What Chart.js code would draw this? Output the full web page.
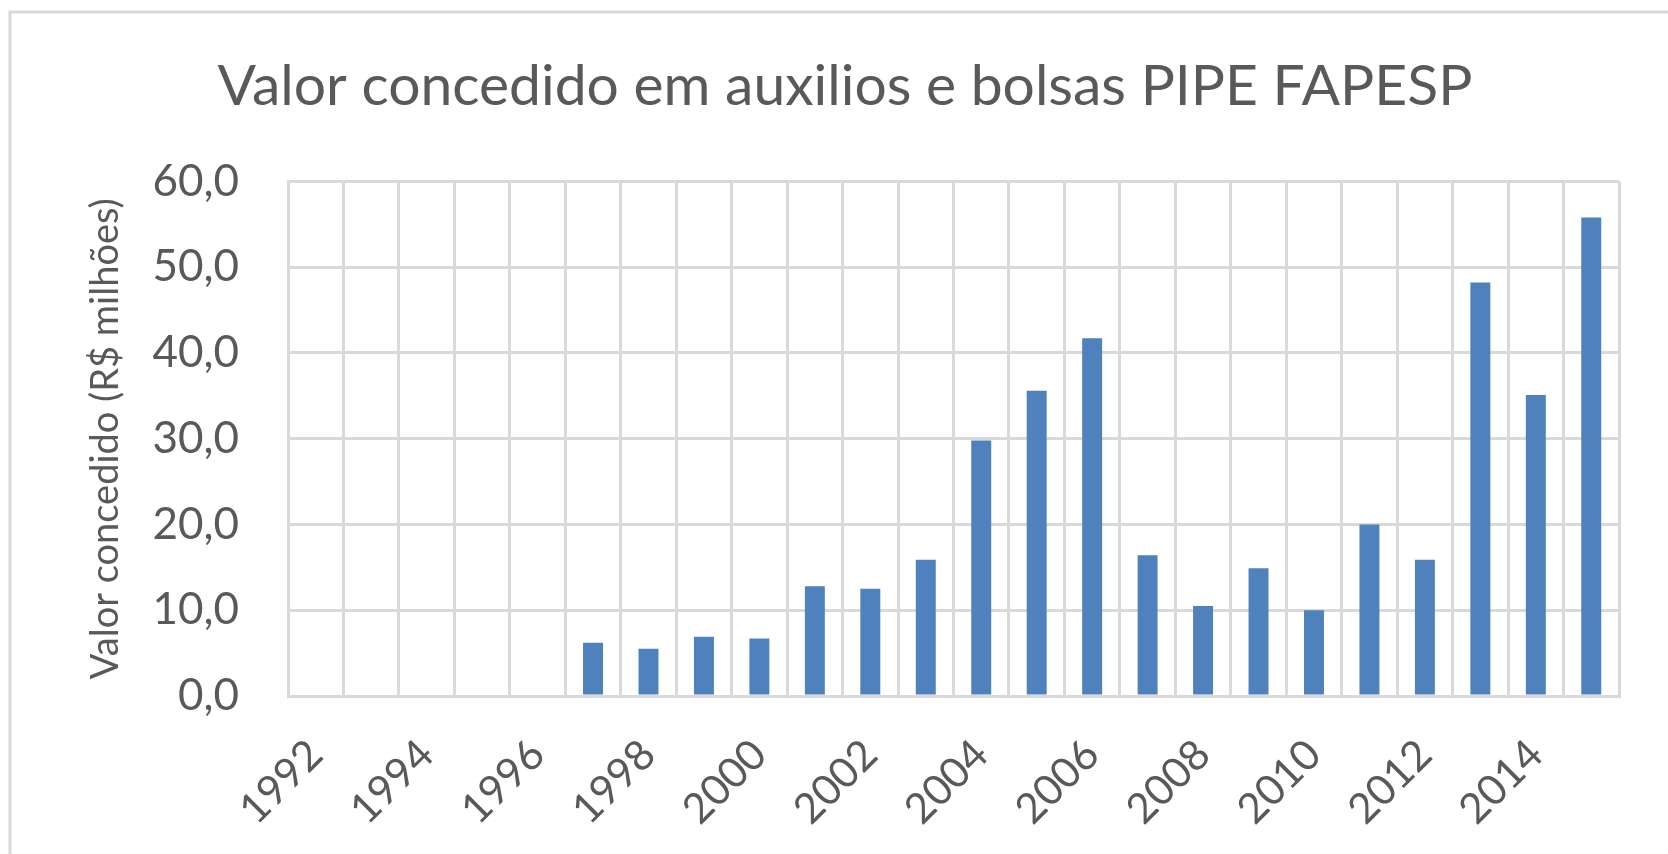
<!DOCTYPE html>
<html>
<head>
<meta charset="utf-8">
<script src="https://cdn.jsdelivr.net/npm/chart.js@4"></script>
<style>
  html, body { margin: 0; padding: 0; background: #fff; }
  #wrap { width: 1668px; height: 854px; }
</style>
</head>
<body>
<div id="wrap"><canvas id="pipeChart"></canvas></div>
<script>
const anos = ['1992', '1993', '1994', '1995', '1996', '1997', '1998', '1999', '2000', '2001', '2002', '2003',
    '2004', '2005', '2006', '2007', '2008', '2009', '2010', '2011', '2012', '2013', '2014', '2015']
const valores = [null, null, null, null, null, 6.2, 5.5, 6.9, 6.7, 12.8, 12.5, 15.9,
    29.8, 35.6, 41.7, 16.4, 10.5, 14.9, 10.0, 20.0, 15.9, 48.2, 35.1, 55.8]
const yTickLabels = ['0,0', '10,0', '20,0', '30,0', '40,0', '50,0', '60,0']

const cinza = '#595959'
const grade = '#d9d9d9'
const fonte = 'Lato'

// moldura cinza em volta do grafico (so topo e esquerda aparecem)
const moldura = {
    id: 'moldura',
    beforeDraw(chart) {
        const ctx = chart.ctx
        ctx.save()
        ctx.strokeStyle = grade
        ctx.lineWidth = 3
        ctx.beginPath()
        ctx.moveTo(10, 900)
        ctx.lineTo(10, 12)
        ctx.lineTo(1700, 12)
        ctx.stroke()
        ctx.restore()
    }
}

const ctx = document.getElementById('pipeChart').getContext('2d')
let chart = new Chart(ctx, {
    type: 'bar',
    data: {
        labels: anos,
        datasets: [{
            label: 'Valor concedido',
            data: valores,
            backgroundColor: '#4f81bd',
            barPercentage: 0.36,
            categoryPercentage: 1,
        }],
    },
    options: {
        responsive: true,
        maintainAspectRatio: false,
        animation: false,
        layout: {
            padding: { left: 71, right: 49, top: 0, bottom: 0 },
        },
        plugins: {
            legend: { display: false },
            tooltip: { enabled: false },
            title: {
                display: true,
                text: 'Valor concedido em auxilios e bolsas PIPE FAPESP',
                color: cinza,
                font: { family: fonte, size: 57, weight: 'normal' },
                padding: { top: 52, bottom: 61 },
            },
        },
        scales: {
            x: {
                grid: { color: grade, lineWidth: 3, drawTicks: false },
                border: { color: grade, width: 3 },
                ticks: {
                    autoSkip: false,
                    maxRotation: 45,
                    minRotation: 45,
                    padding: 34,
                    color: cinza,
                    font: { family: fonte, size: 42 },
                    callback: (v, i) => i % 2 === 0 ? anos[i] : '',
                },
                afterFit: (scale) => { scale.height = 158 },
            },
            y: {
                min: 0,
                max: 60,
                grid: { color: grade, lineWidth: 3, drawTicks: false },
                border: { color: grade, width: 3 },
                ticks: {
                    stepSize: 10,
                    padding: 49,
                    color: cinza,
                    font: { family: fonte, size: 44 },
                    callback: (v) => yTickLabels[v / 10],
                },
                title: {
                    display: true,
                    text: 'Valor concedido (R$ milhões)',
                    color: cinza,
                    font: { family: fonte, size: 38 },
                    padding: { top: 12, bottom: 0 },
                },
                afterFit: (scale) => { scale.width = 217 },
            },
        },
    },
    plugins: [moldura],
})
</script>
</body>
</html>
